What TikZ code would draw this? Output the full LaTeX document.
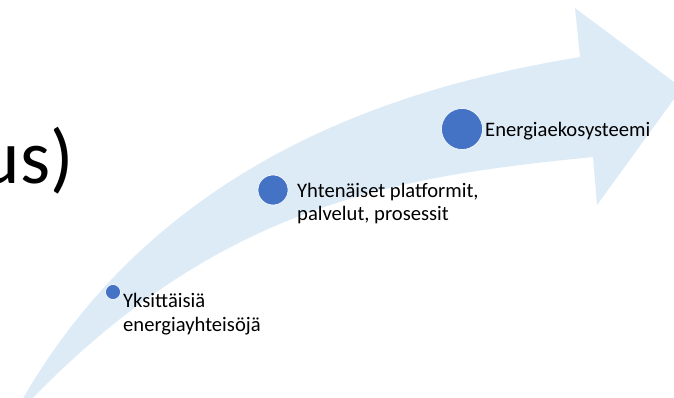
\documentclass[tikz,border=0pt]{standalone}
\usepackage{fontspec}
\setmainfont{Carlito}
\usetikzlibrary{positioning}
\definecolor{arrowblue}{RGB}{221,235,247}
\definecolor{dotblue}{RGB}{68,114,196}

\begin{document}
\begin{tikzpicture}[
    x=1pt, y=-1pt,
    dot/.style={circle, fill=dotblue, draw=white, line width=0.6pt, inner sep=0pt},
    lbl/.style={anchor=base west, align=left, inner sep=0pt, font=\fontsize{20.6}{23.5}\selectfont}
]
\useasboundingbox (0,0) rectangle (674,398);
\clip (0,0) rectangle (674,398);

% curved arrow
\fill[arrowblue] (10,422) .. controls (155,146) and (430,82) .. (580,57)
    -- (575,8) -- (682,88) -- (597,205) -- (593,157)
    .. controls (393,177) and (210,204) .. (10,422) -- cycle;

\node[anchor=base east, inner sep=0pt, font=\fontsize{77}{77}\selectfont] (title) at (74,183) {us)};

\node[dot, minimum size=15pt] (single) at (113,292) {};
\node[dot, minimum size=30pt] (shared) at (273,190) {};
\node[dot, minimum size=41pt] (eco) at (462,129) {};

% base = last line
\node[lbl] (singletext) at (123,331) {Yksittäisiä\\energiayhteisöjä};
\node[lbl] (sharedtext) at (297,220.5) {Yhtenäiset platformit,\\palvelut, prosessit};
\node[lbl] (ecotext) at (485,137) {Energiaekosysteemi};

\end{tikzpicture}
\end{document}
